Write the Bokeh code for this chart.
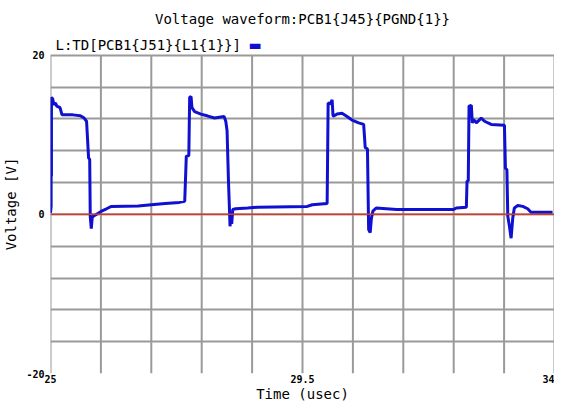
from bokeh.plotting import figure
from bokeh.models import Range1d, FixedTicker, CustomJSTickFormatter, Span, Label
from bokeh.embed import file_html
from bokeh.resources import INLINE

title_text = "Voltage waveform:PCB1{J45}{PGND{1}}"
series_name = "L:TD[PCB1{J51}{L1{1}}]"
x_label = "Time (usec)"
y_label = "Voltage [V]"

x_ticks = [25, 29.5, 34]
y_ticks = [-20, 0, 20]
x_grid = [25.0, 25.9, 26.8, 27.7, 28.6, 29.5, 30.4, 31.3, 32.2, 33.1, 34.0]
y_grid = [-20, -16, -12, -8, -4, 0, 4, 8, 12, 16, 20]

time_us = [25.000, 25.011, 25.011, 25.017, 25.017, 25.040, 25.059, 25.090, 25.112, 25.170,
           25.206, 25.400, 25.533, 25.600, 25.644, 25.680, 25.700, 25.710, 25.728, 25.745,
           25.769, 25.822, 25.911, 26.000, 26.088, 26.567, 26.800, 27.047, 27.300, 27.397,
           27.425, 27.470, 27.485, 27.510, 27.526, 27.574, 27.686, 27.810, 27.929, 28.100,
           28.130, 28.153, 28.178, 28.206, 28.220, 28.236, 28.254, 28.307, 28.520, 28.698,
           29.585, 29.674, 29.940, 29.958, 30.000, 30.029, 30.045, 30.059, 30.118, 30.206,
           30.295, 30.384, 30.503, 30.592, 30.620, 30.660, 30.681, 30.709, 30.730, 30.757,
           30.816, 31.183, 32.190, 32.248, 32.426, 32.438, 32.460, 32.474, 32.515, 32.532,
           32.556, 32.604, 32.692, 32.751, 32.869, 33.106, 33.124, 33.150, 33.166, 33.195,
           33.225, 33.254, 33.283, 33.344, 33.433, 33.521, 33.580, 33.965]
voltage_v = [0.2, 1.0, 4.8, 4.8, 14.7, 14.5, 13.8, 14.0, 13.6, 13.4,
             12.5, 12.5, 12.4, 12.1, 11.7, 7.1, 6.9, -0.3, -1.8, -0.4,
             -0.2, 0.0, 0.4, 0.7, 1.0, 1.05, 1.2, 1.35, 1.5, 1.65,
             7.3, 7.4, 14.7, 14.8, 13.4, 12.9, 12.6, 12.35, 12.1, 12.3,
             11.7, 10.5, 4.2, -1.5, -0.3, -1.2, 0.6, 0.7, 0.8, 0.9,
             1.0, 1.2, 1.35, 14.0, 13.9, 14.4, 12.4, 12.35, 12.6, 12.7,
             12.3, 11.85, 11.5, 11.3, 8.4, 8.2, -1.9, -2.3, -0.5, 0.4,
             0.8, 0.6, 0.6, 0.8, 0.9, 4.2, 4.2, 13.6, 13.7, 11.5,
             11.9, 11.5, 12.1, 11.7, 11.3, 11.2, 5.8, 5.6, -0.25, -1.5,
             -3.0, -0.5, 0.8, 1.1, 1.0, 0.7, 0.25, 0.25]

FONT = "DejaVu Sans Mono"
BLUE = "#1010d0"
GRID = "#9a9a9a"

y_lo, y_hi = y_ticks[0], y_ticks[-1]

# frame extends a little above the +20 line so the series label row sits inside it
p = figure(width=554, height=404, output_backend="svg", toolbar_location=None,
           x_range=Range1d(25, 34), y_range=Range1d(-20, 22.6),
           min_border_left=44, min_border_right=0, min_border_top=34, min_border_bottom=30)
p.outline_line_color = None
p.background_fill_color = "white"
p.border_fill_color = "white"

p.title.text = title_text
p.title.align = "center"
p.title.text_font = FONT
p.title.text_font_size = "14px"
p.title.text_font_style = "normal"
p.title.text_color = "black"
p.title.standoff = 15

# horizontal grid lines (incl. box top/bottom) from the grid; vertical ones as segments
p.xgrid.visible = False
p.ygrid.ticker = FixedTicker(ticks=y_grid)
p.ygrid.grid_line_color = GRID
p.ygrid.grid_line_width = 2
p.segment(x0=x_grid, y0=[y_lo] * len(x_grid), x1=x_grid, y1=[y_hi] * len(x_grid),
          line_color=GRID, line_width=2)

fmt = CustomJSTickFormatter(code="return String(tick);")
p.xaxis.ticker = FixedTicker(ticks=x_ticks)
p.yaxis.ticker = FixedTicker(ticks=y_ticks)
p.xaxis.formatter = fmt
p.yaxis.formatter = fmt
for ax in (p.xaxis, p.yaxis):
    ax.axis_line_color = None
    ax.major_tick_line_color = None
    ax.minor_tick_line_color = None
    ax.major_tick_out = 0
    ax.major_tick_in = 0
    ax.minor_tick_out = 0
    ax.minor_tick_in = 0
    ax.major_label_text_font = FONT
    ax.major_label_text_font_size = "10px"
    ax.major_label_text_font_style = "bold"
    ax.major_label_text_color = "black"
    ax.axis_label_text_font = FONT
    ax.axis_label_text_font_size = "14px"
    ax.axis_label_text_font_style = "normal"
    ax.axis_label_text_color = "black"
p.xaxis.major_label_standoff = 1
p.yaxis.major_label_standoff = 6
p.xaxis.axis_label = x_label
p.yaxis.axis_label = y_label
p.xaxis.axis_label_standoff = 0
p.yaxis.axis_label_standoff = 4

p.add_layout(Span(location=0, dimension="width", line_color="#d43a2a", line_width=1.5))
p.line(time_us, voltage_v, line_color=BLUE, line_width=3)

p.add_layout(Label(x=25, y=y_hi, x_offset=5, y_offset=10, text=series_name,
                   text_align="left", text_baseline="middle",
                   text_font=FONT, text_font_size="14px", text_color="black"))
p.add_layout(Label(x=25, y=y_hi, x_offset=198, y_offset=10, text="\u25ac",
                   text_align="left", text_baseline="middle",
                   text_font="DejaVu Sans", text_font_size="14px", text_color=BLUE))

open("out.html", "w").write(file_html(p, INLINE))
